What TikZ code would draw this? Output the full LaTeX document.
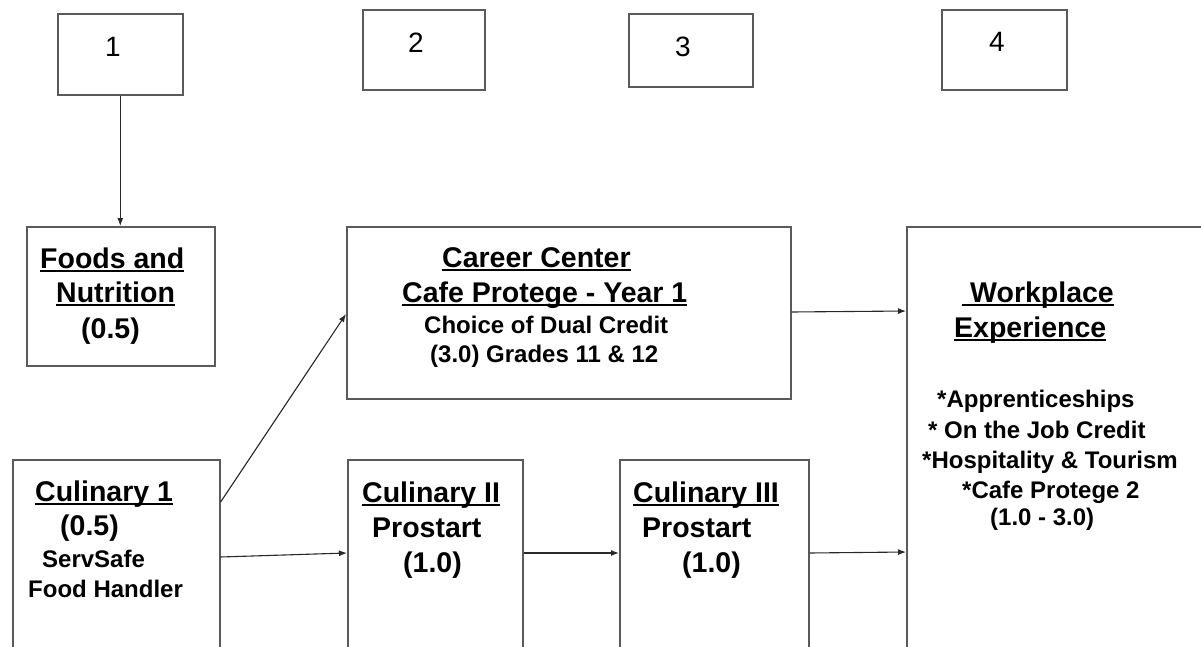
\documentclass[tikz,border=0pt]{standalone}
\usepackage{fontspec}
\setmainfont{Liberation Sans}
\usetikzlibrary{arrows.meta}
\newcommand\uln[1]{\setbox0\hbox{#1}\rlap{\rule[-4pt]{\wd0}{1.8pt}}\box0}
\definecolor{boxc}{RGB}{90,90,90}
\definecolor{arrc}{RGB}{40,40,40}
\tikzset{
  box/.style={draw=boxc, line width=1.6pt, rectangle, inner sep=0pt, anchor=north west},
  arr/.style={draw=arrc, line width=1.1pt, -{Latex[length=8pt,width=6pt]}},
  big/.style={font=\fontsize{28.5}{34}\selectfont\bfseries, inner sep=0pt, anchor=base west},
  small/.style={font=\fontsize{24}{29}\selectfont\bfseries, inner sep=0pt, anchor=base west},
  num/.style={font=\fontsize{28}{34}\selectfont, inner sep=0pt, anchor=base},
}
\begin{document}
\begin{tikzpicture}[x=1pt,y=-1pt]
\clip (0,0) rectangle (1201,647);
\fill[white] (0,0) rectangle (1201,647);
% number boxes
\node[box, minimum width=125pt, minimum height=81pt] (n1) at (57,13) {};
\node[box, minimum width=122pt, minimum height=80pt] (n2) at (362,9) {};
\node[box, minimum width=124pt, minimum height=73pt] (n3) at (628,13) {};
\node[box, minimum width=125pt, minimum height=80pt] (n4) at (941,9) {};
\node[num] (t1) at (113,57) {1};
\node[num] (t2) at (416,53) {2};
\node[num] (t3) at (683,57) {3};
\node[num] (t4) at (997,52) {4};
% course boxes
\node[box, minimum width=188pt, minimum height=139pt] (foods) at (26,226) {};
\node[box, minimum width=444pt, minimum height=172pt] (career) at (346,226) {};
\node[box, minimum width=207pt, minimum height=220pt] (cul1) at (12,459) {};
\node[box, minimum width=175pt, minimum height=220pt] (cul2) at (347,459) {};
\node[box, minimum width=189pt, minimum height=220pt] (cul3) at (619,459) {};
\node[box, minimum width=330pt, minimum height=450pt] (work) at (906,226) {};
% texts
\node[big] (f1) at (40,268) {\uln{Foods and}};
\node[big] (f2) at (56,302) {\uln{Nutrition}};
\node[big] (f3) at (81,338) {(0.5)};
\node[big] (c1a) at (35,501) {\uln{Culinary 1}};
\node[big] (c1b) at (60,535) {(0.5)};
\node[small] (c1c) at (42,567) {ServSafe};
\node[small] (c1d) at (28,597) {Food Handler};
\node[big] (k1) at (442,267) {\uln{Career Center}};
\node[big] (k2) at (402,302) {\uln{Cafe Protege - Year 1}};
\node[small] (k3) at (424,333) {Choice of Dual Credit};
\node[small] (k4) at (430,362) {(3.0) Grades 11 \& 12};
\node[big] (c2a) at (362,502) {\uln{Culinary II}};
\node[big] (c2b) at (372,537) {Prostart};
\node[big] (c2c) at (403,572) {(1.0)};
\node[big] (c3a) at (633,502) {\uln{Culinary III}};
\node[big] (c3b) at (642,537) {Prostart};
\node[big] (c3c) at (682,572) {(1.0)};
\node[big] (w1) at (962,302) {\uln{\hspace{8pt}Workplace}};
\node[big] (w2) at (954,337) {\uln{Experience}};
\node[small] (w3) at (937,407) {*Apprenticeships};
\node[small] (w4) at (928,438) {* On the Job Credit};
\node[small] (w5) at (922,468) {*Hospitality \& Tourism};
\node[small] (w6) at (962,498) {*Cafe Protege 2};
\node[small] (w7) at (990,525) {(1.0 - 3.0)};
% connectors
\draw[arr] (n1.south) -- (n1.south |- foods.north);
\draw[arr] ([yshift=-43pt]cul1.north east) -- ([yshift=-88pt]career.north west);
\draw[arr] ([yshift=-98pt]cul1.north east) -- ([yshift=-94pt]cul2.north west);
\draw[arr] ([yshift=-94pt]cul2.north east) -- ([yshift=-94pt]cul3.north west);
\draw[arr] ([yshift=-94pt]cul3.north east) -- ([yshift=-326pt]work.north west);
\draw[arr] ([yshift=-86pt]career.north east) -- ([yshift=-85pt]work.north west);
\end{tikzpicture}
\end{document}
